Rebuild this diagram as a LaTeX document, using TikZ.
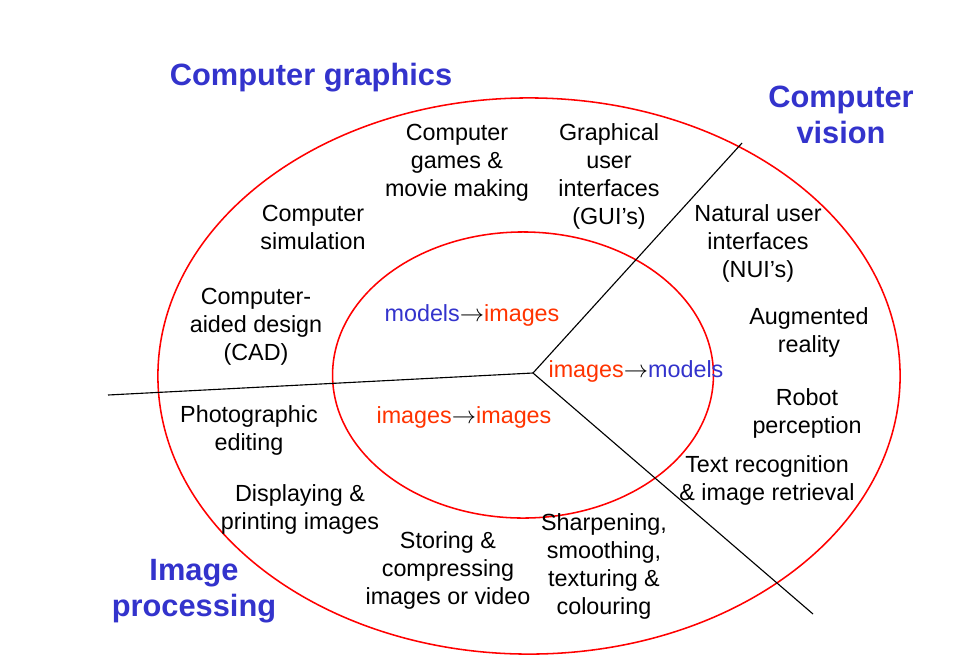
\documentclass[tikz,border=0pt]{standalone}
\usepackage{fontspec}
\setmainfont{Liberation Sans}
\definecolor{headblue}{RGB}{51,51,204}
\definecolor{textred}{RGB}{255,51,0}
\tikzset{
    area/.style={font=\fontsize{16.6pt}{19.9pt}\selectfont, align=center, inner sep=0pt},
    heading/.style={font=\fontsize{21.9pt}{25.6pt}\selectfont\bfseries, text=headblue, align=center, inner sep=0pt},
    ring/.style={draw=red, line width=1.1pt},
    divider/.style={draw=black, line width=0.8pt}
}
\newcommand{\mdl}{\textcolor{headblue}{models}}
\newcommand{\img}{\textcolor{textred}{images}}
\newcommand{\tto}{$\rightarrow$}
\begin{document}
\begin{tikzpicture}[x=0.025cm, y=-0.025cm]
    \useasboundingbox (0,0) rectangle (978,666);

    \draw[ring] (529,376) ellipse [x radius=9.275cm, y radius=6.95cm];
    \draw[ring] (523,375) ellipse [x radius=4.76cm, y radius=3.575cm];

    \coordinate (hub) at (533,373);
    \coordinate (west) at (108,395);
    \coordinate (northeast) at (742,143);
    \coordinate (southeast) at (813,614);
    \foreach \E in {west,northeast,southeast}
        \draw[divider] (hub) -- (\E);

    \node[heading] (graphics) at (311,78) {Computer graphics};
    \node[heading] (vision) at (841,115) {Computer\\vision};
    \node[heading] (processing) at (194,591) {Image\\processing};

    \node[area] (games) at (457,163) {Computer\\games \&\\movie making};
    \node[area] (gui) at (609,176) {Graphical\\user\\interfaces\\(GUI’s)};
    \node[area] (simulation) at (313,227) {Computer\\simulation};
    \node[area] (cad) at (256,327) {Computer-\\aided design\\(CAD)};
    \node[area] (nui) at (758,243) {Natural user\\interfaces\\(NUI’s)};
    \node[area] (augmented) at (809,332) {Augmented\\reality};
    \node[area] (robot) at (807,413) {Robot\\perception};
    \node[area] (retrieval) at (767,480) {Text recognition\\\& image retrieval};
    \node[area] (editing) at (249,430) {Photographic\\editing};
    \node[area] (printing) at (300,509) {Displaying \&\\printing images};
    \node[area] (storing) at (448,570) {Storing \&\\compressing\\images or video};
    \node[area] (sharpening) at (604,566) {Sharpening,\\smoothing,\\texturing \&\\colouring};

    \node[area] (synthesis) at (472,315) {\mdl\tto\img};
    \node[area] (analysis) at (636,371) {\img\tto\mdl};
    \node[area] (filtering) at (464,417) {\img\tto\img};
\end{tikzpicture}
\end{document}
